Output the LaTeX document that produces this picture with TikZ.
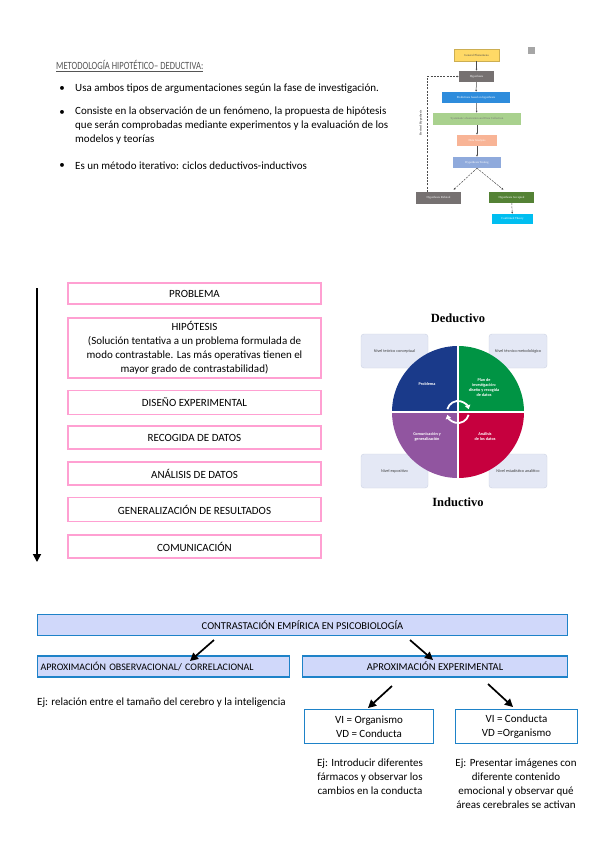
\documentclass[tikz,border=0pt]{standalone}
\usepackage{fontspec}
\setmainfont{Carlito}
\newfontfamily\bookfont{Liberation Serif}
\usetikzlibrary{arrows.meta,positioning,calc}
\definecolor{pinkline}{RGB}{255,160,210}
\definecolor{edgeblue}{RGB}{30,130,200}
\definecolor{lavfill}{RGB}{208,216,250}
\definecolor{titlegray}{RGB}{85,85,85}
\definecolor{nivfill}{RGB}{228,232,245}
\definecolor{nivline}{RGB}{205,210,228}
\definecolor{qblue}{RGB}{26,58,138}
\definecolor{qgreen}{RGB}{0,148,68}
\definecolor{qpurple}{RGB}{145,85,160}
\definecolor{qred}{RGB}{198,0,62}
\definecolor{fyellow}{RGB}{255,217,102}
\definecolor{fgray}{RGB}{118,113,113}
\definecolor{fblue}{RGB}{46,140,220}
\definecolor{flgreen}{RGB}{169,209,142}
\definecolor{forange}{RGB}{248,180,150}
\definecolor{flblue}{RGB}{143,170,220}
\definecolor{fdgreen}{RGB}{84,130,53}
\definecolor{fcyan}{RGB}{0,190,240}
\newcommand{\bodyfont}{\fontsize{11}{14}\selectfont}
\newcommand{\capsfont}{\fontsize{10.5}{14}\selectfont}
\newcommand{\tinyserif}{\bookfont\fontsize{3}{3.6}\selectfont}
\newcommand{\nivfont}{\fontsize{4.2}{5}\selectfont}
\tikzset{
  pinkbox/.style={draw=pinkline, line width=1.6pt, fill=white, minimum width=253pt, align=center, font=\bodyfont, inner sep=1pt},
  lavbox/.style={draw=edgeblue, line width=1.5pt, fill=lavfill, minimum height=21pt, font=\capsfont, inner sep=2pt},
  vibox/.style={draw=edgeblue, line width=1.5pt, fill=white, minimum height=34pt, align=center, font=\bodyfont},
  bodytext/.style={anchor=west, font=\bodyfont, inner sep=0pt, align=left},
  eptext/.style={align=center, font=\bodyfont, inner sep=0pt},
  flowbox/.style={minimum height=11pt, inner sep=0.5pt, font=\tinyserif, text=white},
  flowarrow/.style={-{Latex[length=2pt,width=2pt]}, line width=0.5pt, black!70},
  flowdash/.style={-{Latex[length=2pt,width=2pt]}, line width=0.5pt, dashed, dash pattern=on 2pt off 1.2pt, black!70},
  nivbox/.style={draw=nivline, fill=nivfill, rounded corners=3pt, minimum width=67pt, minimum height=34pt, font=\nivfont, text=black!75},
  quadtext/.style={align=center, font=\nivfont\bfseries, text=white, inner sep=0pt},
  bigarrow/.style={-{Triangle[length=8pt,width=8pt]}, line width=1.7pt}
}
\begin{document}
\begin{tikzpicture}[x=1pt,y=-1pt]
\useasboundingbox[fill=white] (0,0) rectangle (599,848);

% title and bullets
\node[anchor=west, text=titlegray, font=\fontsize{11}{12}\selectfont, inner sep=0pt] (title) at (56,66)
  {\scalebox{0.78}[1]{\underline{METODOLOGÍA HIPOTÉTICO– DEDUCTIVA:}}};
\node[font=\bodyfont, inner sep=0pt] (b1) at (62,89) {•};
\node[font=\bodyfont, inner sep=0pt] (b2) at (62,113) {•};
\node[font=\bodyfont, inner sep=0pt] (b3) at (62,166) {•};
\node[bodytext] (t1) at (75,89) {Usa ambos tipos de argumentaciones según la fase de investigación.};
\node[bodytext, anchor=north west] (t2) at (75,107) {Consiste en la observación de un fenómeno, la propuesta de hipótesis\\que serán comprobadas mediante experimentos y la evaluación de los\\modelos y teorías};
\node[bodytext] (t3) at (75,166) {Es un método iterativo: ciclos deductivos-inductivos};

% small flowchart (top right)
\node[fill=black!35, minimum size=7pt, inner sep=0pt] (icon) at (531.5,50.5) {};
\node[flowbox, fill=fyellow, draw=fyellow!80!black, line width=0.3pt, text=black!70, minimum width=45pt, minimum height=12pt] (gen) at (476.5,55) {General Phenomena};
\node[flowbox, fill=fgray, minimum width=35pt] (hyp) at (476.5,76.5) {Hypothesis};
\node[flowbox, fill=fblue, minimum width=68pt] (pred) at (476,97.5) {Predictions based on hypothesis};
\node[flowbox, fill=flgreen, minimum width=88pt, minimum height=12pt, text=black!55] (sysobs) at (477,119) {Systematic observation and Data Collection};
\node[flowbox, fill=forange, minimum width=40pt] (ana) at (477,140.5) {Data Analysis};
\node[flowbox, fill=flblue, minimum width=48pt] (test) at (477,162.5) {Hypothesis Testing};
\node[flowbox, fill=fgray, minimum width=45pt, minimum height=12pt] (refu) at (438.5,198) {Hypothesis Refuted};
\node[flowbox, fill=fdgreen, minimum width=45pt] (acc) at (511.5,197.5) {Hypothesis Accepted};
\node[flowbox, fill=fcyan, minimum width=41pt, minimum height=10pt] (conf) at (512.5,219) {Confirmed Theory};
\draw[flowarrow] (gen) -- (hyp);
\draw[flowarrow] (hyp) -- (pred);
\draw[flowarrow] (pred) -- (sysobs);
\draw[flowarrow] (sysobs) -- (ana);
\draw[flowarrow] (ana) -- (test);
\draw[flowdash] (test.south) -- ($(refu.north)+(15,-2)$);
\draw[flowdash] (test.south) -- ($(acc.north)+(-8,-2)$);
\draw[flowdash] (acc) -- (conf);
\draw[flowdash] ($(refu.north)+(-11,0)$) |- (hyp.west);
\node[rotate=90, font=\tinyserif\bfseries, text=black!70, inner sep=0pt] (revised) at (421,123) {Revised Hypothesis};

% process steps
\draw[bigarrow] (37,288) coordinate (vtop) -- (37,562) coordinate (vbot);
\node[pinkbox, minimum height=21pt] (problema) at (194.5,293.5) {PROBLEMA};
\node[pinkbox, minimum height=60pt] (hipotesis) at (194.5,348) {HIPÓTESIS\\(Solución tentativa a un problema formulada de\\modo contrastable. Las más operativas tienen el\\mayor grado de contrastabilidad)};
\node[pinkbox, minimum height=24pt] (diseno) at (194.5,402.5) {DISEÑO EXPERIMENTAL};
\node[pinkbox, minimum height=23pt] (recogida) at (194.5,437.5) {RECOGIDA DE DATOS};
\node[pinkbox, minimum height=23pt] (analisis) at (194.5,473.5) {ANÁLISIS DE DATOS};
\node[pinkbox, minimum height=24pt] (generaliz) at (194.5,509.5) {GENERALIZACIÓN DE RESULTADOS};
\node[pinkbox, minimum height=23pt] (comunic) at (194.5,546.5) {COMUNICACIÓN};

% deductive / inductive cycle
\node[font=\bookfont\bfseries\fontsize{12.5}{14}\selectfont] (deduct) at (458,318) {Deductivo};
\node[font=\bookfont\bfseries\fontsize{12.5}{14}\selectfont] (induct) at (458,502) {Inductivo};
\node[nivbox] (nteo) at (394.5,351) {Nivel teórico conceptual};
\node[nivbox, minimum width=58pt] (ntec) at (518,351) {Nivel técnico metodológico};
\node[nivbox] (nexp) at (394.5,471) {Nivel expositivo};
\node[nivbox, minimum width=58pt] (nest) at (518,471) {Nivel estadístico analítico};
\begin{scope}[shift={(458,412)}, yscale=-1]
  \fill[qblue] (0,0) -- (90:66) arc[start angle=90, end angle=180, radius=66] -- cycle;
  \fill[qgreen] (0,0) -- (0:66) arc[start angle=0, end angle=90, radius=66] -- cycle;
  \fill[qpurple] (0,0) -- (180:66) arc[start angle=180, end angle=270, radius=66] -- cycle;
  \fill[qred] (0,0) -- (270:66) arc[start angle=270, end angle=360, radius=66] -- cycle;
  \draw[white, line width=1.6pt] (-67,0) -- (67,0);
  \draw[white, line width=1.6pt] (0,-67) -- (0,67);
  \draw[white, line width=1.8pt, -{Triangle[length=4pt,width=5.5pt]}] (165:11) arc[start angle=165, end angle=15, radius=11];
  \draw[white, line width=1.8pt, -{Triangle[length=4pt,width=5.5pt]}] (345:11) arc[start angle=345, end angle=195, radius=11];
\end{scope}
\node[quadtext] (qprob) at (427,384) {Problema};
\node[quadtext] (qplan) at (484,388) {Plan de\\investigación:\\diseño y recogida\\de datos};
\node[quadtext] (qcom) at (427,437) {Comunicación y\\generalización};
\node[quadtext] (qana) at (485,437) {Análisis\\de los datos};

% empirical contrast
\node[lavbox, minimum width=530pt] (contr) at (302.5,625) {CONTRASTACIÓN EMPÍRICA EN PSICOBIOLOGÍA};
\node[lavbox, minimum width=252pt, text width=246pt, align=left, font=\fontsize{10}{12}\selectfont] (observ) at (163.5,666.5) {APROXIMACIÓN OBSERVACIONAL/ CORRELACIONAL};
\node[lavbox, minimum width=265pt] (experim) at (435,666.5) {APROXIMACIÓN EXPERIMENTAL};
\coordinate (c1a) at (214,640);
\coordinate (c1b) at (190,661);
\coordinate (c2a) at (410,640);
\coordinate (c2b) at (433,660);
\draw[bigarrow] (c1a) -- (c1b);
\draw[bigarrow] (c2a) -- (c2b);
\node[bodytext] (ejobs) at (37,703) {Ej: relación entre el tamaño del cerebro y la inteligencia};
\node[vibox, minimum width=129pt] (viorg) at (369,726.5) {VI = Organismo\\VD = Conducta};
\node[vibox, minimum width=122pt] (vicond) at (516.5,726.5) {VI = Conducta\\VD =Organismo};
\coordinate (e1a) at (392,686);
\coordinate (e1b) at (368,708);
\coordinate (e2a) at (488,684);
\coordinate (e2b) at (513,707);
\draw[bigarrow] (e1a) -- (e1b);
\draw[bigarrow] (e2a) -- (e2b);
\node[eptext, anchor=north] (ejorg) at (370,759) {Ej: Introducir diferentes\\fármacos y observar los\\cambios en la conducta};
\node[eptext, anchor=north] (ejcond) at (516,759) {Ej: Presentar imágenes con\\diferente contenido\\emocional y observar qué\\áreas cerebrales se activan};
\end{tikzpicture}
\end{document}
